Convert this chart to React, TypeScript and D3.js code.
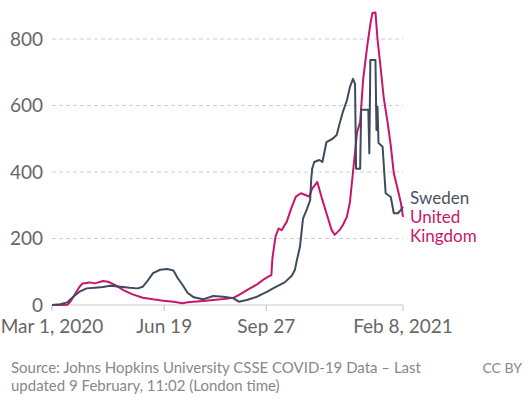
import React from "react";
import * as d3 from "d3";

const swedenDates = ["2020-03-01","2020-03-09","2020-03-16","2020-03-23","2020-03-28","2020-04-04","2020-04-12","2020-04-20","2020-04-27","2020-05-07","2020-05-16","2020-05-24","2020-05-29","2020-06-02","2020-06-08","2020-06-15","2020-06-22","2020-06-28","2020-07-02","2020-07-07","2020-07-12","2020-07-18","2020-07-27","2020-08-06","2020-08-16","2020-08-26","2020-08-31","2020-09-08","2020-09-18","2020-09-28","2020-10-05","2020-10-15","2020-10-22","2020-10-25","2020-10-27","2020-10-30","2020-11-02","2020-11-06","2020-11-09","2020-11-10","2020-11-11","2020-11-13","2020-11-18","2020-11-21","2020-11-25","2020-12-01","2020-12-05","2020-12-08","2020-12-11","2020-12-15","2020-12-18","2020-12-21","2020-12-23","2020-12-24","2020-12-28","2020-12-29","2021-01-05","2021-01-06","2021-01-07","2021-01-12","2021-01-13","2021-01-14","2021-01-15","2021-01-19","2021-01-22","2021-01-27","2021-01-30","2021-02-03","2021-02-06","2021-02-08"];
const swedenValues = [0,2,8,28,40,50,52,54,58,55,52,50,55,70,96,106,108,104,82,60,36,23,17,27,25,20,10,15,25,40,52,68,88,105,135,175,260,290,315,376,410,430,436,430,490,500,511,547,580,615,656,680,665,410,410,587,587,456,737,737,526,596,487,476,336,325,276,276,286,295];

const ukDates = ["2020-03-01","2020-03-09","2020-03-16","2020-03-19","2020-03-23","2020-03-28","2020-03-31","2020-04-07","2020-04-12","2020-04-20","2020-04-25","2020-05-02","2020-05-10","2020-05-19","2020-05-29","2020-06-08","2020-06-18","2020-06-28","2020-07-07","2020-07-12","2020-07-27","2020-08-06","2020-08-16","2020-08-26","2020-08-31","2020-09-08","2020-09-18","2020-09-25","2020-09-29","2020-10-02","2020-10-03","2020-10-06","2020-10-09","2020-10-12","2020-10-17","2020-10-22","2020-10-26","2020-10-31","2020-11-05","2020-11-08","2020-11-11","2020-11-15","2020-11-16","2020-11-20","2020-11-25","2020-11-30","2020-12-03","2020-12-08","2020-12-11","2020-12-15","2020-12-18","2020-12-21","2020-12-25","2020-12-28","2020-12-31","2021-01-04","2021-01-07","2021-01-09","2021-01-12","2021-01-14","2021-01-17","2021-01-20","2021-01-24","2021-01-27","2021-01-30","2021-02-03","2021-02-06","2021-02-08"];
const ukValues = [0,0,1,10,30,55,65,68,65,72,70,60,45,32,22,17,13,10,5,8,12,15,18,22,30,45,62,78,85,90,140,205,230,225,250,295,326,336,330,326,350,366,370,326,276,226,211,226,240,265,310,400,520,550,680,780,845,878,880,800,716,626,547,480,396,346,306,265];

const yTicks = [0, 200, 400, 600, 800];
const xTickDates = ["2020-03-01", "2020-06-19", "2020-09-27", "2021-02-08"];
const xTickLabels = ["Mar 1, 2020", "Jun 19", "Sep 27", "Feb 8, 2021"];
const seriesNames = ["Sweden", "United Kingdom"];
const sourceLines = ["Source: Johns Hopkins University CSSE COVID-19 Data – Last", "updated 9 February, 11:02 (London time)"];
const licenseText = "CC BY";

const SWEDEN = "#3d4b5e";
const UK = "#c8166c";
const FONT = "Lato, 'Open Sans', sans-serif";

export default function App() {
  const parse = d3.utcParse("%Y-%m-%d");
  const x = d3.scaleUtc().domain([parse("2020-03-01")!, parse("2021-02-08")!]).range([52, 403]);
  const y = d3.scaleLinear().domain([0, 800]).range([305, 39]);
  const line = d3.line<[Date, number]>().x(d => x(d[0])).y(d => y(d[1]));
  const sw: [Date, number][] = swedenDates.map((d, i) => [parse(d)!, swedenValues[i]]);
  const uk: [Date, number][] = ukDates.map((d, i) => [parse(d)!, ukValues[i]]);
  const lastSw = sw[sw.length - 1];

  return (
    <svg width={528} height={400} style={{ position: "absolute", left: 0, top: 0, background: "#fff" }} fontFamily={FONT}>
      {yTicks.filter(t => t > 0).map(t => (
        <line key={t} x1={52} x2={403} y1={y(t)} y2={y(t)} stroke="#cfcfcf" strokeWidth={1} strokeDasharray="4,3" />
      ))}
      {yTicks.map(t => (
        <text key={"l" + t} x={43} y={y(t)} dy="0.35em" textAnchor="end" fontSize={19} fill="#666">{t}</text>
      ))}
      <line x1={52} x2={403} y1={y(0)} y2={y(0)} stroke="#cccccc" strokeWidth={1.2} />
      {xTickDates.map((d, i) => (
        <g key={d}>
          <line x1={x(parse(d)!)} x2={x(parse(d)!)} y1={y(0)} y2={y(0) + 6} stroke="#cccccc" strokeWidth={1.2} />
          <text x={x(parse(d)!)} y={y(0) + 28} textAnchor="middle" fontSize={19} fill="#666">{xTickLabels[i]}</text>
        </g>
      ))}
      <path d={line(uk) || ""} fill="none" stroke={UK} strokeWidth={2} strokeLinejoin="round" />
      <path d={line(sw) || ""} fill="none" stroke={SWEDEN} strokeWidth={2} strokeLinejoin="round" />
      <text x={410} y={y(lastSw[1]) - 3} fontSize={17} fill="#4a5260">{seriesNames[0]}</text>
      <text x={410} y={y(lastSw[1]) + 16} fontSize={17} fill={UK}>
        <tspan x={410}>United</tspan>
        <tspan x={410} dy={19}>Kingdom</tspan>
      </text>
      <text x={11} y={373} fontSize={15} fill="#888">
        <tspan x={11}>{sourceLines[0]}</tspan>
        <tspan x={11} dy={18}>{sourceLines[1]}</tspan>
      </text>
      <text x={522} y={373} textAnchor="end" fontSize={14} fill="#888">{licenseText}</text>
    </svg>
  );
}
